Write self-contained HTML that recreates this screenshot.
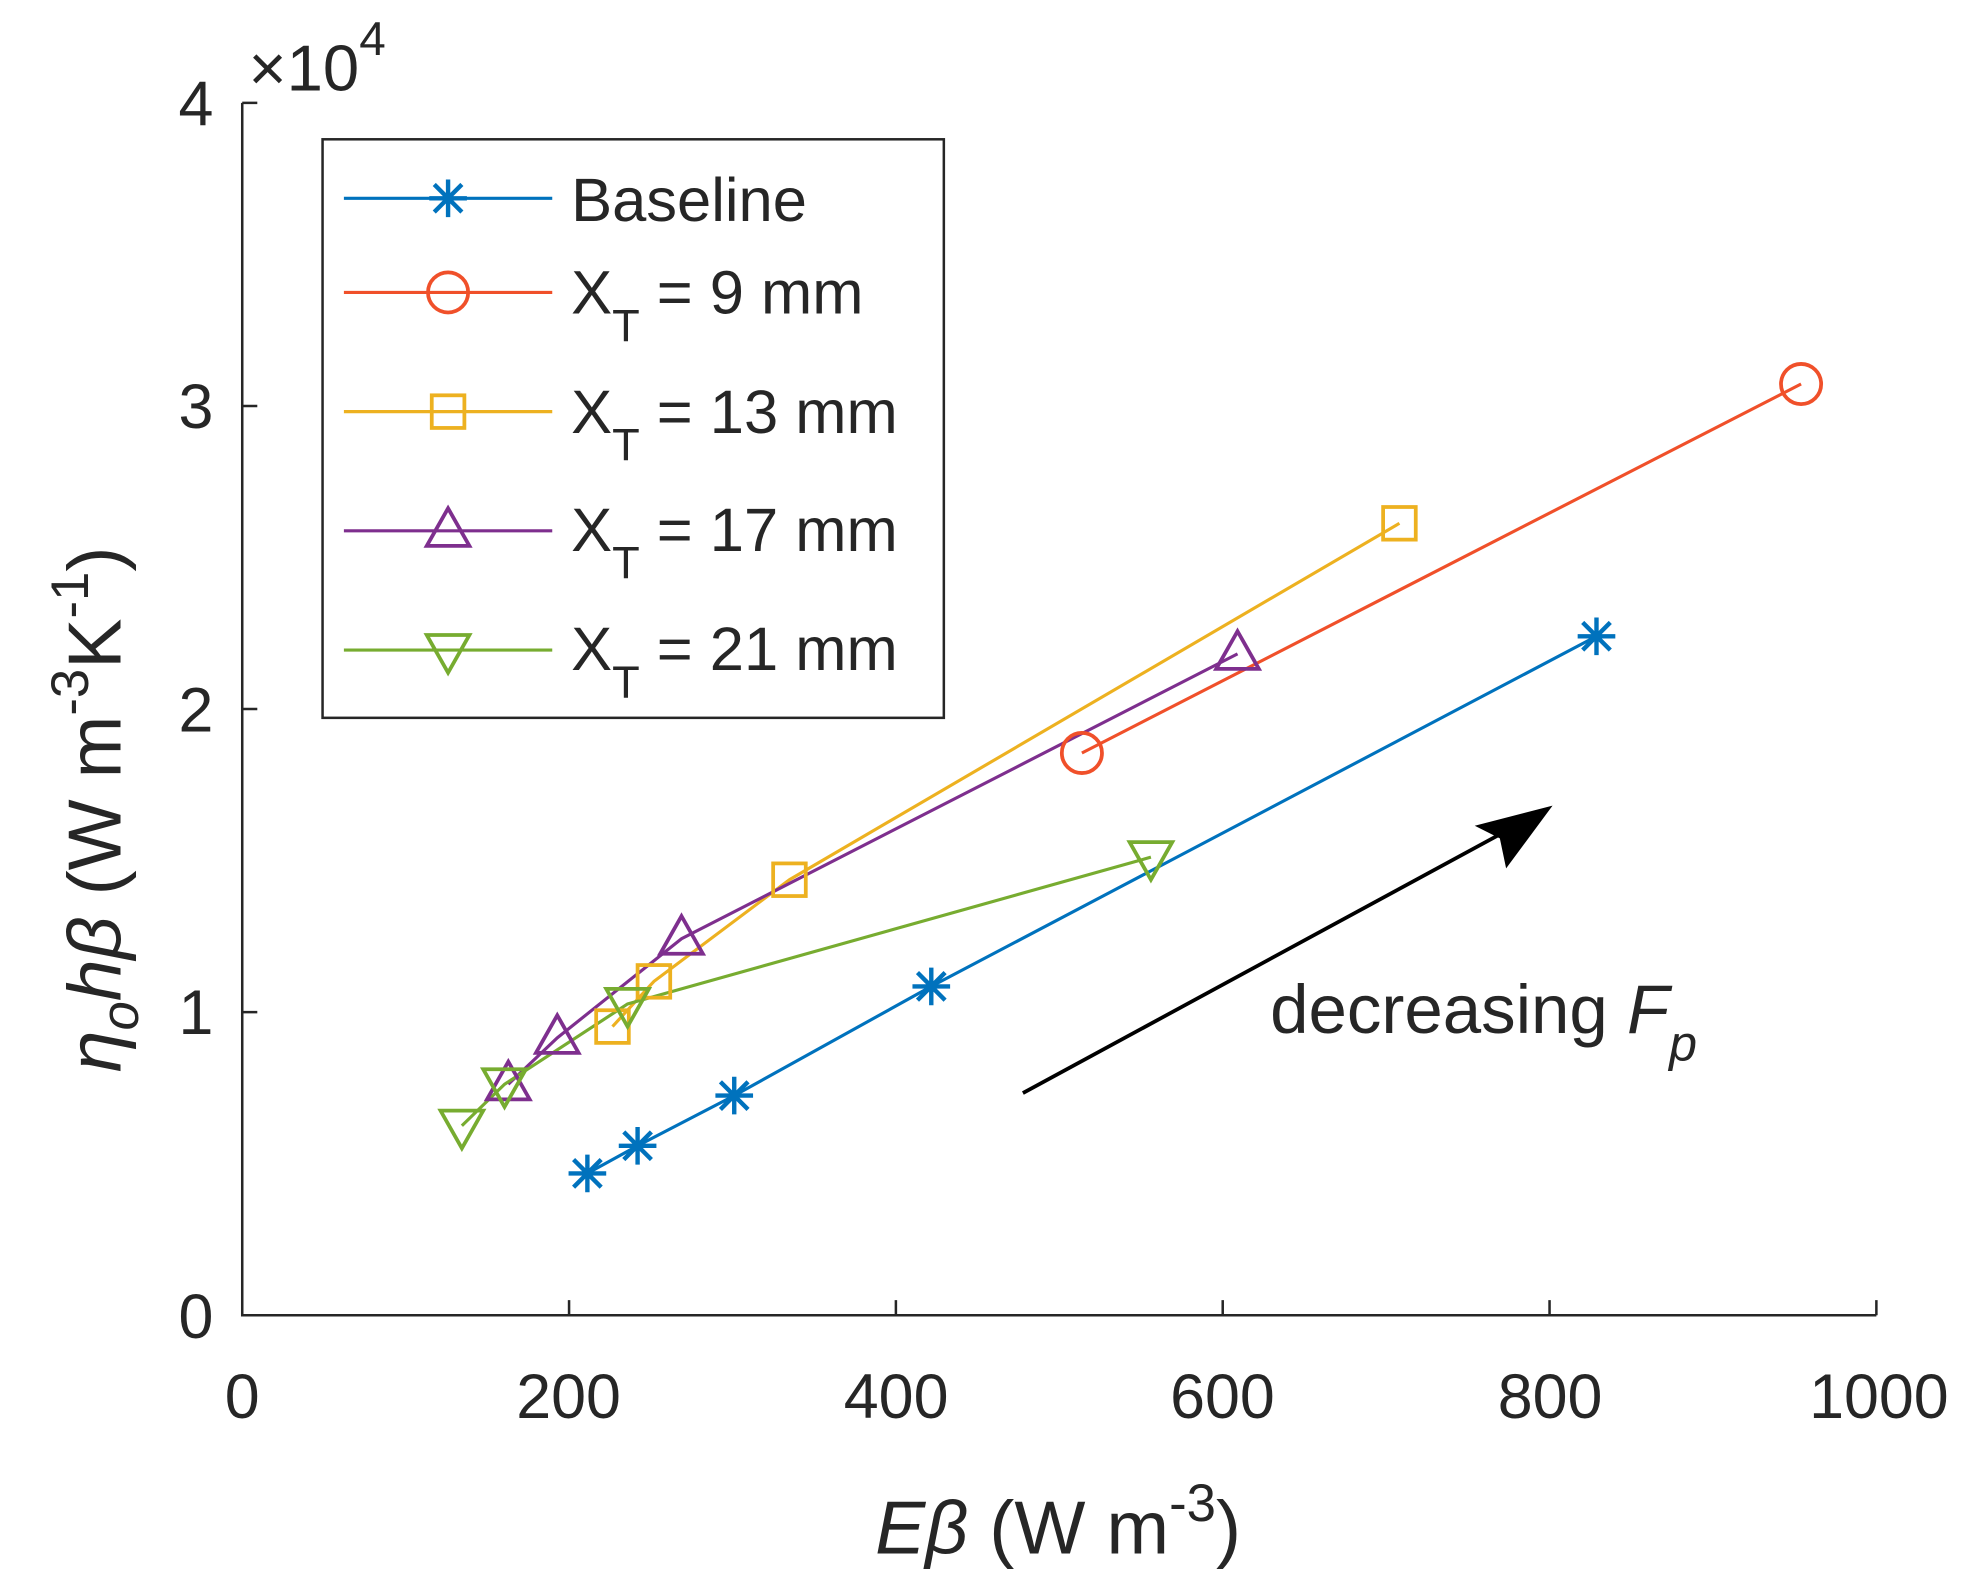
<!DOCTYPE html>
<html><head><meta charset="utf-8"><style>
html,body{margin:0;padding:0;background:#fff;}
svg{display:block;}
text{font-family:"Liberation Sans",sans-serif;fill:#262626;}
</style></head><body>
<svg width="1968" height="1580" viewBox="0 0 1568 1259" preserveAspectRatio="none" xmlns="http://www.w3.org/2000/svg">
<defs>
<g id="star"><path d="M-15 0H15M0 -15V15M-11 -11L11 11M-11 11L11 -11" stroke="#0072BD" stroke-width="3.5" fill="none"/></g>
<circle id="circ" r="16" stroke="#F0502A" stroke-width="3" fill="none"/>
<rect id="sq" x="-13" y="-13" width="26" height="26" stroke="#EDB120" stroke-width="3" fill="none"/>
<path id="tri" d="M0 -18L17 12H-17Z" stroke="#7E2F8E" stroke-width="3" fill="none"/>
<path id="itri" d="M0 18L17 -12H-17Z" stroke="#77AC30" stroke-width="3" fill="none"/>
</defs>
<g stroke="#262626" stroke-width="2" fill="none">
<path d="M193 82V1048H1495"/>
<path d="M453.4 1048v-12M713.8 1048v-12M974.2 1048v-12M1234.6 1048v-12M1495 1048v-12"/>
<path d="M193 82h12M193 323.5h12M193 565h12M193 806.5h12"/>
</g>
<g font-size="50" text-anchor="middle">
<text x="193" y="1130">0</text><text x="453" y="1130">200</text><text x="714" y="1130">400</text><text x="974" y="1130">600</text><text x="1235" y="1130">800</text><text x="1497" y="1130">1000</text>
</g>
<g font-size="50" text-anchor="end">
<text x="170" y="1066">0</text><text x="170" y="824">1</text><text x="170" y="583">2</text><text x="170" y="341">3</text><text x="170" y="100">4</text>
</g>
<text x="198" y="72" font-size="52">×10<tspan font-size="38" dy="-28">4</tspan></text>
<text x="843" y="1238" font-size="60" text-anchor="middle"><tspan font-style="italic">Eβ</tspan> (W m<tspan font-size="42" dy="-26">-3</tspan><tspan dy="26">)</tspan></text>
<text transform="translate(96 645) rotate(-90)" font-size="60" text-anchor="middle"><tspan font-style="italic">η</tspan><tspan font-style="italic" font-size="42" dy="14">o</tspan><tspan font-style="italic" dy="-14">hβ</tspan> (W m<tspan font-size="42" dy="-26">-3</tspan><tspan dy="26">K</tspan><tspan font-size="42" dy="-26">-1</tspan><tspan dy="26">)</tspan></text>
<polyline points="468,935 508,913 585,873 742,786 1272,507" stroke="#0072BD" stroke-width="2.5" fill="none"/>
<polyline points="862,600 1435,306" stroke="#F0502A" stroke-width="2.5" fill="none"/>
<polyline points="488,818 521,782 629,701 1115,417" stroke="#EDB120" stroke-width="2.5" fill="none"/>
<polyline points="405,864 444,827 543,748 986,521" stroke="#7E2F8E" stroke-width="2.5" fill="none"/>
<polyline points="368,897 402,864 500,800 917,683" stroke="#77AC30" stroke-width="2.5" fill="none"/>
<use href="#star" x="468" y="935"/><use href="#star" x="508" y="913"/><use href="#star" x="585" y="873"/><use href="#star" x="742" y="786"/><use href="#star" x="1272" y="507"/>
<use href="#circ" x="862" y="600"/><use href="#circ" x="1435" y="306"/>
<use href="#sq" x="488" y="818"/><use href="#sq" x="521" y="782"/><use href="#sq" x="629" y="701"/><use href="#sq" x="1115" y="417"/>
<use href="#tri" x="405" y="864"/><use href="#tri" x="444" y="827"/><use href="#tri" x="543" y="748"/><use href="#tri" x="986" y="521"/>
<use href="#itri" x="368" y="897"/><use href="#itri" x="402" y="864"/><use href="#itri" x="500" y="800"/><use href="#itri" x="917" y="683"/>
<line x1="815" y1="871" x2="1215" y2="654" stroke="#000" stroke-width="3"/>
<path d="M1237 642L1175 658L1195 668L1200 692Z" fill="#000"/>
<text x="1012" y="823" font-size="55">decreasing <tspan font-style="italic">F</tspan><tspan font-style="italic" font-size="40" dy="22">p</tspan></text>
<rect x="257" y="111" width="495" height="461" fill="#fff" stroke="#262626" stroke-width="2"/>
<g stroke-width="2.5">
<line x1="274" y1="158" x2="440" y2="158" stroke="#0072BD"/>
<line x1="274" y1="233" x2="440" y2="233" stroke="#F0502A"/>
<line x1="274" y1="328" x2="440" y2="328" stroke="#EDB120"/>
<line x1="274" y1="423" x2="440" y2="423" stroke="#7E2F8E"/>
<line x1="274" y1="518" x2="440" y2="518" stroke="#77AC30"/>
</g>
<use href="#star" x="357" y="158"/><use href="#circ" x="357" y="233"/><use href="#sq" x="357" y="328"/><use href="#tri" x="357" y="423"/><use href="#itri" x="357" y="518"/>
<g font-size="49">
<text x="455" y="176">Baseline</text>
<text x="455" y="250">X<tspan font-size="36" dy="22">T</tspan><tspan dy="-22"> = 9 mm</tspan></text>
<text x="455" y="345">X<tspan font-size="36" dy="22">T</tspan><tspan dy="-22"> = 13 mm</tspan></text>
<text x="455" y="439">X<tspan font-size="36" dy="22">T</tspan><tspan dy="-22"> = 17 mm</tspan></text>
<text x="455" y="534">X<tspan font-size="36" dy="22">T</tspan><tspan dy="-22"> = 21 mm</tspan></text>
</g>
</svg>
</body></html>
